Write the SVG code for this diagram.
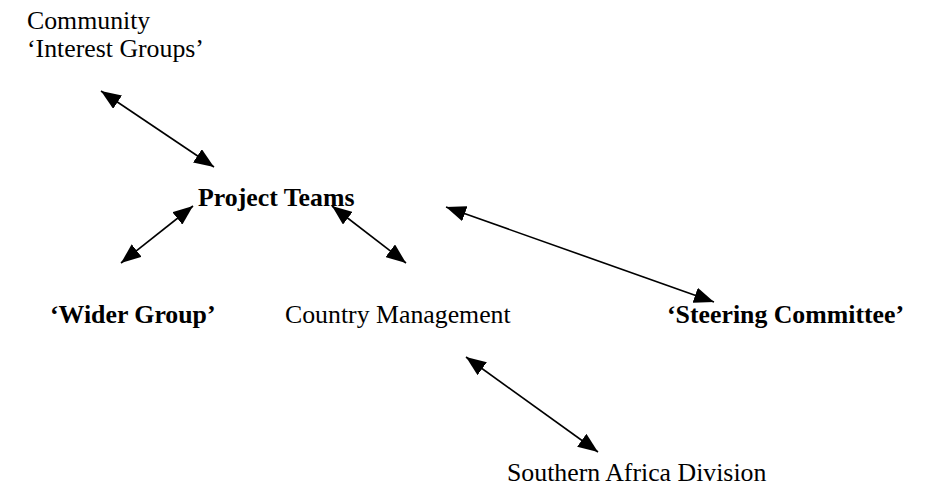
<svg xmlns="http://www.w3.org/2000/svg" width="930" height="486" viewBox="0 0 930 486">
<defs>
<marker id="ah" viewBox="0 0 20 16" refX="20" refY="8" markerWidth="20" markerHeight="16" markerUnits="userSpaceOnUse" orient="auto-start-reverse">
<path d="M0,0 L20,8 L0,16 z" fill="#000"/>
</marker>
</defs>
<style>
text{font-family:"Liberation Serif","Times New Roman",serif;font-size:25.8px;fill:#000}
.b{font-weight:bold}
.c{stroke:#000;stroke-width:1.6;fill:none;marker-start:url(#ah);marker-end:url(#ah)}
</style>
<rect width="930" height="486" fill="#fff"/>
<g id="community"><text x="27" y="29">Community</text><text x="27" y="57">‘Interest Groups’</text></g>
<g id="project-teams"><text class="b" x="198" y="206">Project Teams</text></g>
<g id="wider-group"><text class="b" x="50" y="323">‘Wider Group’</text></g>
<g id="country-management"><text x="285" y="323">Country Management</text></g>
<g id="steering-committee"><text class="b" x="667" y="323">‘Steering Committee’</text></g>
<g id="southern-africa"><text x="507" y="481">Southern Africa Division</text></g>
<g id="connectors">
<line class="c" x1="101" y1="91" x2="214" y2="167"/>
<line class="c" x1="121" y1="263" x2="193" y2="206"/>
<line class="c" x1="332" y1="206" x2="406" y2="263"/>
<line class="c" x1="446" y1="207" x2="714" y2="302"/>
<line class="c" x1="466" y1="357" x2="598" y2="452"/>
</g>
</svg>
